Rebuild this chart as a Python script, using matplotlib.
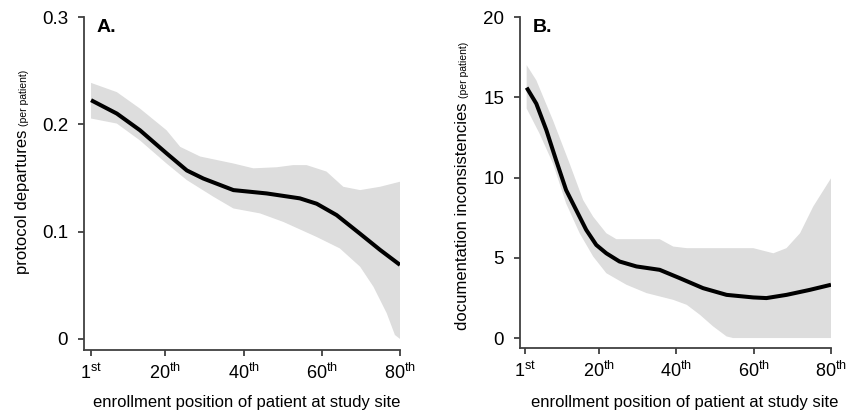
import numpy as np
import matplotlib.pyplot as plt

plt.rcParams['font.family'] = 'Liberation Sans'
plt.rcParams['mathtext.fontset'] = 'custom'
plt.rcParams['mathtext.rm'] = 'Liberation Sans'

# panel A: protocol departures
a_x = [1, 7.6, 13.5, 20.3, 25.5, 29.7, 37.4, 45.9, 54.4, 58.7, 63.8, 69.8, 74.9, 80]
a_y = [0.2225, 0.210, 0.1945, 0.173, 0.157, 0.1495, 0.1387, 0.1356, 0.131, 0.126,
       0.1154, 0.098, 0.083, 0.069]
a_up_x = [1, 7.6, 13.5, 20.3, 23.8, 28.9, 37.4, 42.5, 48.5, 52.7, 56.1, 61.2, 65.5, 69.8, 74.9, 80]
a_up_y = [0.2386, 0.230, 0.2147, 0.1945, 0.179, 0.170, 0.1635, 0.159, 0.160, 0.162, 0.162,
          0.156, 0.1418, 0.1387, 0.1418, 0.1465]
a_lo_x = [1, 7.6, 13.5, 20.3, 25.5, 32.3, 37.4, 44.2, 50.2, 58.7, 64.6, 69.8, 73.2, 76.6, 78.7, 80]
a_lo_y = [0.2054, 0.2007, 0.185, 0.1635, 0.148, 0.1325, 0.1216, 0.117, 0.109, 0.095,
          0.0844, 0.0673, 0.0487, 0.024, 0.0037, 0.0]

# panel B: documentation inconsistencies
b_x = [1.3, 3.8, 6.4, 8.9, 11.5, 14.1, 16.7, 19.3, 21.9, 25.3, 29.7, 35.7, 40.9, 46.9,
       53, 59.9, 63.3, 68.5, 74.5, 80]
b_y = [15.6, 14.6, 12.95, 11.09, 9.22, 7.98, 6.74, 5.80, 5.28, 4.77, 4.46, 4.25, 3.73,
       3.11, 2.69, 2.53, 2.49, 2.69, 3.0, 3.32]
b_up_x = [1.3, 3.8, 8.1, 12.4, 15.9, 18.5, 21.9, 24.5, 35.7, 39.2, 42.7, 59.9, 65.1,
          68.5, 72, 75.4, 80]
b_up_y = [17.0, 16.06, 13.57, 10.88, 8.60, 7.56, 6.53, 6.16, 6.16, 5.70, 5.60, 5.60,
          5.28, 5.6, 6.53, 8.19, 9.95]
b_lo_x = [1.3, 4.6, 8.1, 11.5, 15, 18.5, 21.9, 27.1, 32.3, 39.2, 42.7, 46.1, 49.5, 53,
          54.7, 80]
b_lo_y = [14.3, 12.75, 10.88, 8.39, 6.53, 5.08, 4.04, 3.32, 2.80, 2.38, 2.07, 1.45,
          0.73, 0.1, 0.0, 0.0]

xticks = [1, 20, 40, 60, 80]
xticklabels = [r'1$^{\rm st}$', r'20$^{\rm th}$', r'40$^{\rm th}$', r'60$^{\rm th}$', r'80$^{\rm th}$']

W, H = 851, 420
fig = plt.figure(figsize=(W / 100, H / 100), dpi=100)


def px_axes(l, r, t, b):
    return fig.add_axes([l / W, 1 - b / H, (r - l) / W, (b - t) / H])


def style(ax, xlim, ylim, yticks, yticklabels):
    ax.set_xlim(*xlim)
    ax.set_ylim(*ylim)
    for s in ['top', 'right']:
        ax.spines[s].set_visible(False)
    for s in ['left', 'bottom']:
        ax.spines[s].set_color('#404040')
        ax.spines[s].set_linewidth(1.3)
    ax.set_xticks(xticks)
    ax.set_xticklabels(xticklabels)
    ax.set_yticks(yticks)
    ax.set_yticklabels(yticklabels)
    ax.tick_params(length=4.5, width=1.3, color='#404040')
    ax.tick_params(axis='y', pad=7, labelsize=13.5)
    ax.tick_params(axis='x', pad=5, labelsize=13)


def ylabel2(x, y, main, small):
    t = fig.text(x / W, 1 - y / H, main, rotation=90, rotation_mode='anchor',
                 ha='left', va='baseline', fontsize=12)
    fig.canvas.draw()
    bb = t.get_window_extent()
    fig.text(x / W, (bb.y1 + 4) / fig.dpi / fig.get_figheight(), small, rotation=90,
             rotation_mode='anchor', ha='left', va='baseline', fontsize=7.5)


band = '#dddddd'

# panel A
ax1 = px_axes(84, 400, 17, 350)
ax1.fill(np.r_[a_up_x, a_lo_x[::-1]], np.r_[a_up_y, a_lo_y[::-1]], color=band, lw=0)
ax1.plot(a_x, a_y, color='black', lw=2.9, solid_capstyle='butt')
style(ax1, (-0.8, 80), (-0.0103, 0.3), [0, 0.1, 0.2, 0.3], ['0', '0.1', '0.2', '0.3'])
fig.text(97 / W, 1 - 32 / H, 'A.', fontsize=14, fontweight='bold')
fig.text(247 / W, 1 - 407 / H, 'enrollment position of patient at study site',
         ha='center', va='baseline', fontsize=12)
ylabel2(27, 274, 'protocol departures', '(per patient)')

# panel B
ax2 = px_axes(520, 831, 17, 348)
ax2.fill(np.r_[b_up_x, b_lo_x[::-1]], np.r_[b_up_y, b_lo_y[::-1]], color=band, lw=0)
ax2.plot(b_x, b_y, color='black', lw=2.9, solid_capstyle='butt')
style(ax2, (-0.42, 80), (-0.62, 20), [0, 5, 10, 15, 20], ['0', '5', '10', '15', '20'])
fig.text(533 / W, 1 - 32 / H, 'B.', fontsize=14, fontweight='bold')
fig.text(685 / W, 1 - 407 / H, 'enrollment position of patient at study site',
         ha='center', va='baseline', fontsize=12)
ylabel2(467, 330, 'documentation inconsistencies', '(per patient)')

fig.savefig('out.png', dpi=100)
